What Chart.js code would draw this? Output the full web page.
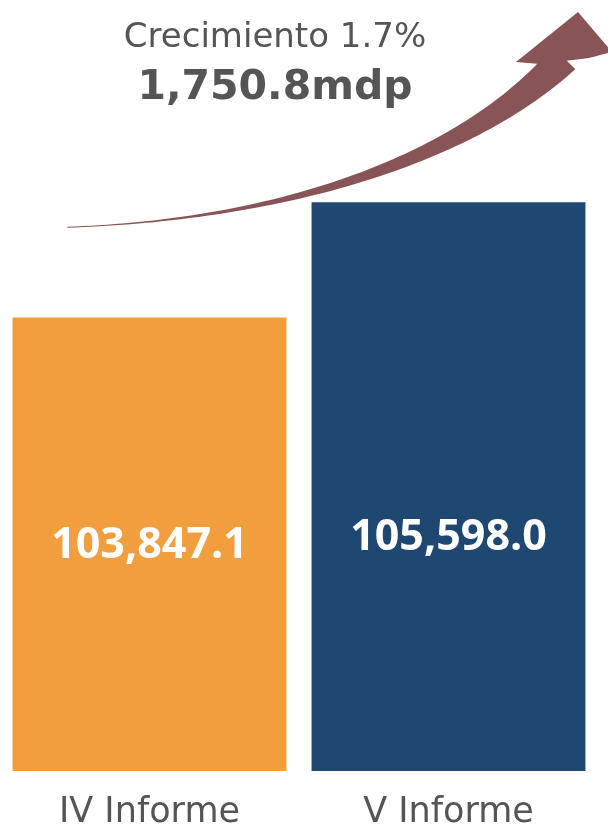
<!DOCTYPE html>
<html>
<head>
<meta charset="utf-8">
<script src="https://cdn.jsdelivr.net/npm/chart.js@4/dist/chart.umd.min.js"></script>
<style>
  html, body { margin: 0; padding: 0; background: #fff; }
  #wrap { width: 608px; height: 827px; }
</style>
</head>
<body>
<div id="wrap"><canvas id="informeChart"></canvas></div>
<script>
// Data
const categories = ["IV Informe", "V Informe"];
const amounts = [103847.1, 105598.0];
const barColours = ["#F19F3E", "#1E4871"];
const growthLabel = "Crecimiento 1.7%";
const growthAmount = "1,750.8mdp";

const textFont = "'DejaVu Sans', sans-serif";
const numberFont = "'Open Sans', 'Liberation Sans', sans-serif";

// white numbers inside the bars
const valueLabels = {
    id: "valueLabels",
    afterDatasetsDraw(chart) {
        const ctx = chart.ctx;
        const meta = chart.getDatasetMeta(0);
        ctx.save();
        ctx.fillStyle = "#ffffff";
        ctx.font = "bold 43px " + numberFont;
        ctx.textAlign = "center";
        ctx.textBaseline = "middle";
        meta.data.forEach((bar, i) => {
            const txt = amounts[i].toLocaleString("en-US", { minimumFractionDigits: 1, maximumFractionDigits: 1 });
            ctx.fillText(txt, bar.x, chart.chartArea.bottom - 227 + (i ? -6 : 2));
        });
        ctx.restore();
    }
};

// curved growth arrow and the text above it
const growthArrow = {
    id: "growthArrow",
    afterDraw(chart) {
        const ctx = chart.ctx;
        const bars = chart.getDatasetMeta(0).data;

        const p0 = { x: bars[0].x - 82, y: bars[1].y + 25 };
        const p1 = { x: 280, y: 220 };
        const p2 = { x: 465, y: 160 };
        const p3 = { x: 564, y: 58 };

        const pt = t => {
            const u = 1 - t;
            return {
                x: u*u*u*p0.x + 3*u*u*t*p1.x + 3*u*t*t*p2.x + t*t*t*p3.x,
                y: u*u*u*p0.y + 3*u*u*t*p1.y + 3*u*t*t*p2.y + t*t*t*p3.y
            };
        };
        const left = [], right = [];
        const steps = 80;
        for (let i = 0; i <= steps; i++) {
            const t = i / steps;
            const a = pt(Math.max(0, t - 0.01)), b = pt(Math.min(1, t + 0.01));
            let dx = b.x - a.x, dy = b.y - a.y;
            const len = Math.hypot(dx, dy);
            dx /= len; dy /= len;
            const w = (1 + 31 * Math.pow(t, 1.9)) / 2;
            const c = pt(t);
            left.push({ x: c.x - dy * w, y: c.y + dx * w });
            right.push({ x: c.x + dy * w, y: c.y - dx * w });
        }
        ctx.save();
        ctx.fillStyle = "#895455";
        ctx.beginPath();
        left.forEach((p, i) => i ? ctx.lineTo(p.x, p.y) : ctx.moveTo(p.x, p.y));
        for (let i = right.length - 1; i >= 0; i--) ctx.lineTo(right[i].x, right[i].y);
        ctx.closePath();
        ctx.fill();

        // head
        ctx.beginPath();
        ctx.moveTo(578, 12);
        ctx.lineTo(612, 52);
        ctx.lineTo(589, 58);
        ctx.lineTo(540, 64);
        ctx.lineTo(516, 62);
        ctx.closePath();
        ctx.fill();

        // text
        ctx.fillStyle = "#555555";
        ctx.textAlign = "center";
        ctx.textBaseline = "middle";
        ctx.font = "34px " + textFont;
        ctx.fillText(growthLabel, 275, 38);
        ctx.font = "bold 41px " + textFont;
        ctx.fillText(growthAmount, 275, 88);
        ctx.restore();
    }
};

new Chart(document.getElementById("informeChart"), {
    type: "bar",
    data: {
        labels: categories,
        datasets: [{
            data: amounts,
            backgroundColor: barColours,
            borderWidth: 0,
            barPercentage: 0.916,
            categoryPercentage: 1
        }]
    },
    options: {
        responsive: true,
        maintainAspectRatio: false,
        animation: false,
        layout: { padding: { top: 0, left: 0, right: 10, bottom: -27 } },
        plugins: {
            legend: { display: false },
            tooltip: { enabled: false },
            title: { display: false }
        },
        scales: {
            x: {
                grid: { display: false, drawTicks: false },
                border: { display: false },
                ticks: {
                    color: "#555555",
                    padding: 24,
                    font: { family: textFont, size: 35, lineHeight: 1.0 }
                }
            },
            y: {
                display: false,
                min: 96950,
                max: 108673
            }
        }
    },
    plugins: [valueLabels, growthArrow]
});
</script>
</body>
</html>
